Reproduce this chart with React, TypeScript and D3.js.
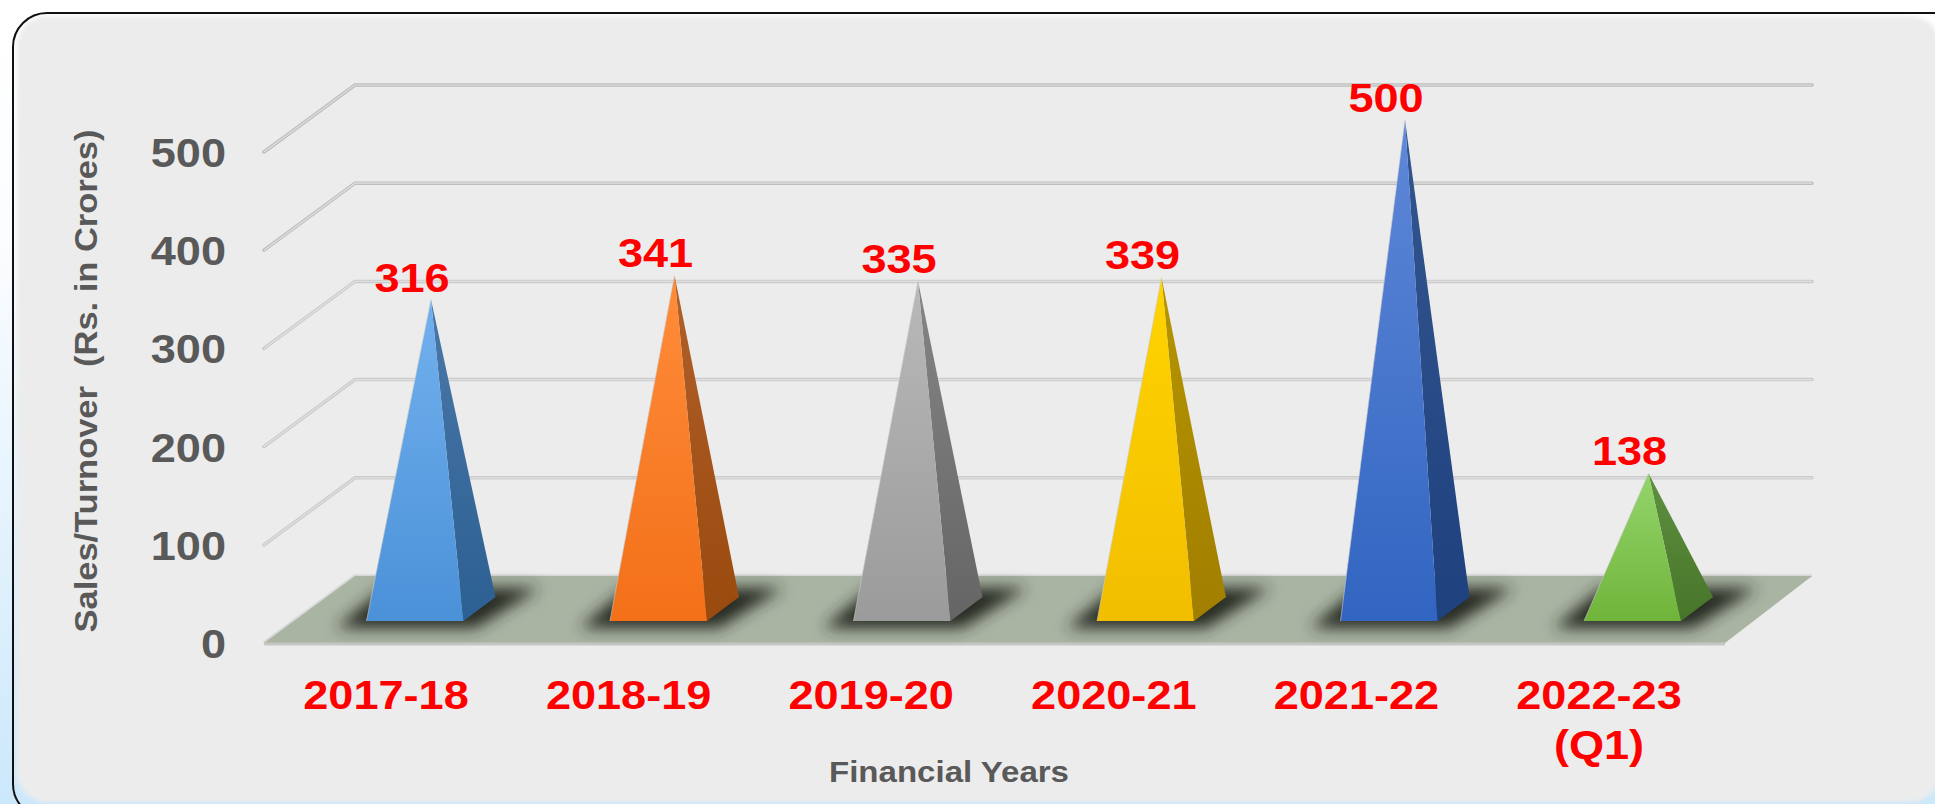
import React from "react";
import * as d3 from "d3";

const categories = ["2017-18", "2018-19", "2019-20", "2020-21", "2021-22", "2022-23"];
const sales = [316, 341, 335, 339, 500, 138];
const yTicks = [0, 100, 200, 300, 400, 500];
const frontColors = [["#72b1ee", "#4b91d8"], ["#ff8c3a", "#f37018"], ["#b9b9b9", "#9b9b9b"], ["#ffd400", "#f2be00"], ["#5f88d8", "#3165c1"], ["#94d56c", "#70b43a"]];
const sideColors = [["#4a78a8", "#2c5f92"], ["#b0602a", "#9a4a0d"], ["#858585", "#656565"], ["#b59500", "#a17e00"], ["#34568f", "#1e417f"], ["#5f9040", "#47752a"]];

const W = 1935, H = 804;
const frontY = d3.scaleLinear().domain([0, 500]).range([643, 152]);
const apexY = d3.scaleLinear().domain([0, 500]).range([608, 120]);
const floorX = d3.scaleLinear().domain([0, 1]).range([264, 1725]);
const backX = d3.scaleLinear().domain([0, 1]).range([355, 1812]);
const catX = d3.scalePoint<string>().domain(categories).range([366.5, 1584]);
const labelX = d3.scalePoint<string>().domain(categories).range([386, 1599]);
const depthY = -67;
const baseW = 97, sideX = 32, sideY = -24;
const baseFront = 621;
const font = "'Liberation Sans', Arial, sans-serif";

const pts = (a: number[][]) => a.map(p => p.join(",")).join(" ");

function Label({ x, y, anchor, fill, children }: { x: number; y: number; anchor: string; fill: string; children: React.ReactNode }) {
  return (
    <text transform={`translate(${x},${y}) scale(1.1,1)`} textAnchor={anchor} fill={fill} fontFamily={font} fontWeight={700} fontSize={41}>
      {children}
    </text>
  );
}

export default function App() {
  const x0 = floorX(0), x1 = floorX(1);
  const bx0 = backX(0), bx1 = backX(1);
  return (
    <svg width={W} height={H} style={{ position: "absolute", left: 0, top: 0, display: "block" }} viewBox={`0 0 ${W} ${H}`}>
      <defs>
        <linearGradient id="page" x1="0" y1="0" x2="0" y2="1">
          <stop offset="0" stopColor="#ffffff" />
          <stop offset="0.3" stopColor="#fbfdff" />
          <stop offset="1" stopColor="#cce8fb" />
        </linearGradient>
        <filter id="soft" x="-5%" y="-5%" width="110%" height="110%"><feGaussianBlur stdDeviation="2" /></filter>
        <filter id="shadow" x="-30%" y="-80%" width="160%" height="260%"><feGaussianBlur stdDeviation="7.5" /></filter>
        {categories.map((c, i) => (
          <React.Fragment key={c}>
            <linearGradient id={`f${i}`} x1="0" y1="0" x2="0" y2="1">
              <stop offset="0" stopColor={frontColors[i][0]} />
              <stop offset="1" stopColor={frontColors[i][1]} />
            </linearGradient>
            <linearGradient id={`s${i}`} x1="0" y1="0" x2="0" y2="1">
              <stop offset="0" stopColor={sideColors[i][0]} />
              <stop offset="1" stopColor={sideColors[i][1]} />
            </linearGradient>
          </React.Fragment>
        ))}
      </defs>
      <rect width={W} height={H} fill="url(#page)" />
      <rect x={17} y={16} width={1923} height={786} rx={30} fill="#ececec" filter="url(#soft)" />
      <rect x={13} y={13} width={1965} height={805} rx={34} fill="none" stroke="#111" strokeWidth={2} />

      {yTicks.slice(1).map(t => {
        const yf = frontY(t);
        const d = [[x0, yf], [bx0, yf + depthY], [bx1, yf + depthY]];
        const dark = t >= 400 ? "#bdbdbd" : "#cbcbcb";
        return (
          <g key={t} fill="none">
            <polyline points={pts(d)} stroke={dark} strokeWidth={3.5} strokeLinecap="round" />
            <polyline points={pts(d)} stroke="#e0e0e0" strokeWidth={1.2} />
          </g>
        );
      })}

      <polyline points={pts([[x0, 643], [bx0, 643 + depthY], [bx1, 643 + depthY]])} fill="none" stroke="#d8d8d8" strokeWidth={3.5} />
      <polygon points={pts([[x0, 643], [x1, 643], [bx1, 643 + depthY], [bx0, 643 + depthY]])} fill="#aab4a3" />
      <line x1={x0} x2={x1} y1={644} y2={644} stroke="#c6c6c6" strokeWidth={3} />

      {categories.map(c => {
        const l = catX(c)!;
        return <polygon key={c} points={pts([[l - 30, 628], [l + baseW + 12, 628], [l + baseW + 76, 588], [l + 18, 588]])} fill="#262a24" filter="url(#shadow)" />;
      })}

      {categories.map((c, i) => {
        const l = catX(c)!, r = l + baseW;
        const ax = l + (baseW + sideX) / 2;
        const ay = apexY(sales[i]);
        return (
          <g key={c}>
            <polygon points={pts([[r, baseFront], [r + sideX, baseFront + sideY], [ax, ay]])} fill={`url(#s${i})`} />
            <polygon points={pts([[l, baseFront], [r, baseFront], [ax, ay]])} fill={`url(#f${i})`} />
            <polyline points={pts([[l, baseFront], [ax, ay]])} fill="none" stroke="#c9c9c9" strokeOpacity={0.6} strokeWidth={1} />
            <Label x={ax - 19} y={ay - 8} anchor="middle" fill="#ff0000">{sales[i]}</Label>
            <Label x={labelX(c)!} y={709} anchor="middle" fill="#ff0000">{c}</Label>
            {i === 5 && <Label x={labelX(c)!} y={759} anchor="middle" fill="#ff0000">(Q1)</Label>}
          </g>
        );
      })}

      {yTicks.map(t => (
        <Label key={t} x={226} y={frontY(t) + 15} anchor="end" fill="#595959">{t}</Label>
      ))}

      <text transform="translate(97,381) rotate(-90)" textAnchor="middle" fill="#595959" fontFamily={font} fontWeight={700} fontSize={32} textLength={503} lengthAdjust="spacingAndGlyphs" xmlSpace="preserve">Sales/Turnover  (Rs. in Crores)</text>
      <text x={949} y={782} textAnchor="middle" fill="#595959" fontFamily={font} fontWeight={700} fontSize={30} textLength={240} lengthAdjust="spacingAndGlyphs">Financial Years</text>
    </svg>
  );
}
